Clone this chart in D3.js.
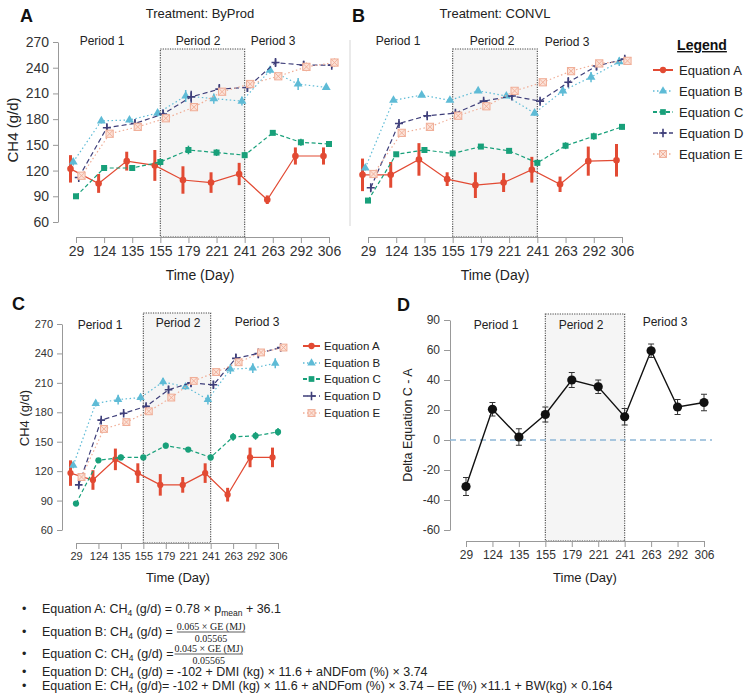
<!DOCTYPE html>
<html>
<head>
<meta charset="utf-8">
<script src="https://cdn.jsdelivr.net/npm/d3@7"></script>
<style>
  body { margin: 0; background: #fff; }
  svg { font-family: "Liberation Sans", Arial, sans-serif; }
</style>
</head>
<body>
<svg id="fig" width="745" height="698"></svg>
<script>
// ---- data ----
const days = ['29','124','135','155','179','221','241','263','292','306'];
const eqNames = ['Equation A','Equation B','Equation C','Equation D','Equation E'];
const ch4Ticks = [60, 90, 120, 150, 180, 210, 240, 270];

// Treatment: ByProd
const byprodA = [122,105,131,126,109,106,116,86,137,137];
const byprodAErr = [16,11,11,18,16,12,13,5,10,10];
const byprodB = [130,178,179,187,207,204,201,237,221,217];
const byprodBErr = [4,3,3,4,7,6,5,4,7,3];
const byprodC = [90,123,123,130,144,141,138,164,153,151];
const byprodCErr = [2,2,2,4,5,4,4,2,4,2];
const byprodD = [112,170,175,186,206,215,217,246,243,243];
const byprodDErr = [3,4,4,5,7,6,5,4,5,3];
const byprodE = [114,163,171,181,194,212,221,230,241,246];
const byprodEErr = [2,3,3,3,3,3,3,3,5,5];

// Treatment: CONVL
const convlA = [115,115,133,110,103,106,121,104,131,132];
const convlAErr = [19,15,19,8,15,11,15,9,17,19];
const convlB = [123,202,208,202,213,207,187,213,229,247];
const convlBErr = [3,2,2,2,2,2,3,6,6,5];
const convlC = [85,139,144,140,148,143,129,149,160,171];
const convlCErr = [2,2,2,2,2,2,3,4,4,3];
const convlD = [100,175,184,187,201,207,201,223,242,250];
const convlDErr = [4,3,3,3,3,3,3,6,5,4];
const convlE = [116,164,171,184,195,213,223,236,245,248];
const convlEErr = [2,2,2,3,3,3,3,3,3,3];

// both treatments together
const allA = [118,111,132,118,106,106,118,96,134,134];
const allAErr = [13,10,11,10,11,8,10,7,10,10];
const allB = [126,189,193,195,211,206,193,224,225,230];
const allBErr = [3,3,5,4,4,3,5,5,5,5];
const allC = [87,131,134,134,146,142,134,155,156,160];
const allCErr = [2,2,3,2,3,2,3,4,4,4];
const allD = [106,172,179,186,203,210,208,235,240,246];
const allDErr = [3,2,2,3,4,4,4,5,5,3];
const allE = [114,163,170,181,195,212,221,231,241,246];
const allEErr = [2,2,2,2,3,2,2,3,3,3];

// delta equation C - A
const delta = [-31,20.5,2,17,40,35.5,15.5,59.5,22,25];
const deltaErr = [6,4.5,5.5,5,5,4.5,5.5,4.5,5,5.5];
const deltaTicks = [-60,-40,-20,0,20,40,60,80];
const deltaTickLabels = ['-60','-40','-20','0','20','40','60','90'];

const periods = ['Period 1','Period 2','Period 3'];

// ---- styles ----
const seriesStyle = [
  { color: '#e24a33', dash: null,      marker: 'circle',   ew: 3   },
  { color: '#5ebbd6', dash: '1.5,2.5', marker: 'triangle', ew: 1.5 },
  { color: '#18a07a', dash: '4,2.5',   marker: 'square',   ew: 1.5 },
  { color: '#3f3f7a', dash: '5,3',     marker: 'plus',     ew: 1.5 },
  { color: '#f0ad96', dash: '1.5,2.5', marker: 'sqx',      ew: 1.2 }
];
const dodge = [-5.5, -2.75, 0, 2.75, 5.5];

const svg = d3.select('#fig');

function marker(g, type, cx, cy, c, k) {
  k = k || 1;
  if (type === 'circle') {
    g.append('circle').attr('cx', cx).attr('cy', cy).attr('r', 3.3 * k).attr('fill', c);
  } else if (type === 'triangle') {
    g.append('path').attr('d', d3.symbol(d3.symbolTriangle, 34 * k * k)())
      .attr('transform', `translate(${cx},${cy})`).attr('fill', c);
  } else if (type === 'square') {
    g.append('rect').attr('x', cx - 3 * k).attr('y', cy - 3 * k)
      .attr('width', 6 * k).attr('height', 6 * k).attr('fill', c);
  } else if (type === 'plus') {
    g.append('path').attr('d', `M${cx - 4 * k},${cy}H${cx + 4 * k}M${cx},${cy - 4.5 * k}V${cy + 4.5 * k}`)
      .attr('stroke', c).attr('stroke-width', 1.6);
  } else if (type === 'sqx') {
    const s = 3.6 * k;
    g.append('rect').attr('x', cx - s).attr('y', cy - s).attr('width', 2 * s).attr('height', 2 * s)
      .attr('fill', '#fbe2d8').attr('stroke', c).attr('stroke-width', 1);
    g.append('path').attr('d', `M${cx - s},${cy - s}L${cx + s},${cy + s}M${cx - s},${cy + s}L${cx + s},${cy - s}`)
      .attr('stroke', c).attr('stroke-width', 0.9);
  }
}

function styleAxis(g, fs) {
  g.attr('font-family', null).attr('font-size', null);
  g.select('.domain').attr('stroke', '#999');
  g.selectAll('.tick line').attr('stroke', '#999');
  g.selectAll('.tick text').attr('fill', '#333').style('font-size', fs + 'px');
}

function periodBox(g, x, top, axisY) {
  g.append('rect')
    .attr('x', x('155')).attr('y', top)
    .attr('width', x('241') - x('155')).attr('height', axisY - top)
    .attr('fill', '#f5f5f5').attr('stroke', '#444')
    .attr('stroke-width', 1.1).attr('stroke-dasharray', '1.2,1.2');
}

function label(g, txt, x, y, fs, opts) {
  opts = opts || {};
  const t = g.append('text').attr('x', x).attr('y', y)
    .attr('text-anchor', opts.anchor || 'middle')
    .attr('fill', opts.fill || '#222')
    .style('font-size', fs + 'px')
    .text(txt);
  if (opts.bold) t.attr('font-weight', 'bold');
  if (opts.rotate) t.attr('transform', `rotate(-90,${x},${y})`);
  return t;
}

// ---- CH4 panel ----
function ch4Panel(cfg) {
  const g = svg.append('g');
  const x = d3.scalePoint().domain(days).range(cfg.xRange);
  const y = d3.scaleLinear().domain([60, 270]).range(cfg.yRange);

  periodBox(g, x, cfg.boxTop, cfg.axisY);

  if (cfg.yAxisX != null) {
    const ya = g.append('g').attr('transform', `translate(${cfg.yAxisX},0)`)
      .call(d3.axisLeft(y).tickValues(ch4Ticks).tickSize(5).tickSizeOuter(0).tickPadding(4));
    styleAxis(ya, cfg.tickFs);
  }
  const xa = g.append('g').attr('transform', `translate(0,${cfg.axisY})`)
    .call(d3.axisBottom(x).tickSize(6).tickSizeOuter(0).tickPadding(3));
  styleAxis(xa, cfg.tickFs);

  cfg.series.forEach((vals, i) => {
    const st = seriesStyle[i];
    const errs = cfg.errs[i];
    const off = dodge[i];
    const sg = g.append('g');
    const line = d3.line().x((d, j) => x(days[j]) + off).y(d => y(d));
    sg.append('path').datum(vals).attr('d', line)
      .attr('fill', 'none').attr('stroke', st.color).attr('stroke-width', 1.2)
      .attr('stroke-dasharray', st.dash);
    vals.forEach((v, j) => {
      const cx = x(days[j]) + off;
      sg.append('line').attr('x1', cx).attr('x2', cx)
        .attr('y1', y(v - errs[j])).attr('y2', y(v + errs[j]))
        .attr('stroke', st.color).attr('stroke-width', st.ew);
      marker(sg, (cfg.markerOverride && cfg.markerOverride[i]) || st.marker, cx, y(v), st.color, cfg.mk);
    });
  });

  cfg.periodPos.forEach((p, i) => label(g, periods[i], p[0], p[1], cfg.periodFs));
  return { g, x, y };
}

function legend(g, x0, x1, tx, rows, fs) {
  eqNames.forEach((n, i) => {
    const st = seriesStyle[i];
    const cy = rows[i];
    g.append('line').attr('x1', x0).attr('x2', x1).attr('y1', cy).attr('y2', cy)
      .attr('stroke', st.color).attr('stroke-width', i === 0 || i === 2 ? 2 : 1.4)
      .attr('stroke-dasharray', st.dash);
    marker(g, st.marker, (x0 + x1) / 2, cy, st.color, 0.95);
    g.append('text').attr('x', tx).attr('y', cy).attr('dy', '0.35em')
      .attr('fill', '#222').style('font-size', fs + 'px').text(n);
  });
}

// Panel A
ch4Panel({
  xRange: [76, 329], yRange: [222, 42], yAxisX: 58, axisY: 237, boxTop: 49,
  tickFs: 14, periodFs: 12, mk: 1,
  series: [byprodA, byprodB, byprodC, byprodD, byprodE],
  errs: [byprodAErr, byprodBErr, byprodCErr, byprodDErr, byprodEErr],
  periodPos: [[102, 45], [198, 45], [273, 45]]
});
label(svg, 'A', 20, 22, 18, { anchor: 'start', bold: true, fill: '#111' });
label(svg, 'Treatment: ByProd', 200, 18, 13);
label(svg, 'Time (Day)', 200, 280, 14);
label(svg, 'CH4 (g/d)', 18, 130, 15, { rotate: true });

// Panel B
svg.append('line').attr('x1', 350).attr('x2', 350).attr('y1', 40).attr('y2', 226)
  .attr('stroke', '#d5d5d5').attr('stroke-width', 1);
ch4Panel({
  xRange: [368, 622], yRange: [222, 42], yAxisX: null, axisY: 237, boxTop: 49,
  tickFs: 14, periodFs: 12, mk: 1,
  series: [convlA, convlB, convlC, convlD, convlE],
  errs: [convlAErr, convlBErr, convlCErr, convlDErr, convlEErr],
  periodPos: [[398, 45], [492, 45], [567, 46]]
});
label(svg, 'B', 352, 22, 18, { anchor: 'start', bold: true, fill: '#111' });
label(svg, 'Treatment: CONVL', 495, 18, 13);
label(svg, 'Time (Day)', 495, 280, 14);

// main legend
const lg = svg.append('g');
lg.append('text').attr('x', 702).attr('y', 50).attr('text-anchor', 'middle')
  .attr('font-weight', 'bold').attr('text-decoration', 'underline')
  .attr('fill', '#111').style('font-size', '14px').text('Legend');
legend(lg, 653, 673, 679, [70, 91, 112, 133, 154], 13);

// Panel C
ch4Panel({
  xRange: [76, 278], yRange: [530, 324], yAxisX: 62, axisY: 543, boxTop: 313,
  tickFs: 11, periodFs: 12, mk: 0.95,
  series: [allA, allB, allC, allD, allE],
  errs: [allAErr, allBErr, allCErr, allDErr, allEErr],
  markerOverride: [null, null, 'circle', null, null],
  periodPos: [[100, 329], [178, 327], [257, 326]]
});
label(svg, 'C', 12, 310, 18, { anchor: 'start', bold: true, fill: '#111' });
label(svg, 'Time (Day)', 178, 582, 13);
label(svg, 'CH4 (g/d)', 29, 418, 13, { rotate: true });
legend(svg.append('g'), 303, 320, 324, [346, 363, 379, 396, 413], 11.5);

// Panel D
(function () {
  const g = svg.append('g');
  const x = d3.scalePoint().domain(days).range([466, 704]);
  const y = d3.scaleLinear().domain([-60, 80]).range([530, 320]);
  const axisY = 541;
  periodBox(g, x, 314, axisY);
  const ya = g.append('g').attr('transform', 'translate(450,0)')
    .call(d3.axisLeft(y).tickValues(deltaTicks).tickFormat((d, i) => deltaTickLabels[i])
      .tickSize(6).tickSizeOuter(0).tickPadding(4));
  styleAxis(ya, 12);
  const xa = g.append('g').attr('transform', `translate(0,${axisY})`)
    .call(d3.axisBottom(x).tickSize(6).tickSizeOuter(0).tickPadding(3));
  styleAxis(xa, 12);

  g.append('line').attr('x1', 450).attr('x2', 712).attr('y1', y(0)).attr('y2', y(0))
    .attr('stroke', '#8db6d6').attr('stroke-width', 1.5).attr('stroke-dasharray', '6,4');

  g.append('path').datum(delta)
    .attr('d', d3.line().x((d, j) => x(days[j])).y(d => y(d)))
    .attr('fill', 'none').attr('stroke', '#111').attr('stroke-width', 1.4);
  delta.forEach((v, j) => {
    const cx = x(days[j]);
    const lo = y(v - deltaErr[j]), hi = y(v + deltaErr[j]);
    g.append('path').attr('d', `M${cx},${lo}V${hi}M${cx - 3},${lo}H${cx + 3}M${cx - 3},${hi}H${cx + 3}`)
      .attr('stroke', '#333').attr('stroke-width', 1).attr('fill', 'none');
    g.append('circle').attr('cx', cx).attr('cy', y(v)).attr('r', 4.6).attr('fill', '#111');
  });
  [[496, 329], [581, 329], [665, 326]].forEach((p, i) => label(g, periods[i], p[0], p[1], 12));
})();
label(svg, 'D', 397, 311, 18, { anchor: 'start', bold: true, fill: '#111' });
label(svg, 'Time (Day)', 585, 582, 13);
label(svg, 'Delta Equation C - A', 412, 425, 12.5, { rotate: true });

// ---- equations below ----
const eq = svg.append('g').style('font-size', '12.5px').attr('fill', '#222');
function eqRow(y, parts) {
  eq.append('text').attr('x', 22).attr('y', y).text('•');
  const t = eq.append('text').attr('x', 42).attr('y', y);
  parts.forEach(p => {
    if (p.sub) t.append('tspan').attr('dy', 3).style('font-size', '8.5px').text(p.sub);
    else t.append('tspan').attr('dy', p.up ? -3 : 0).text(p.t);
  });
  return t;
}
function fraction(t, num, den, gap) {
  const bb = t.node().getBBox();
  const x0 = bb.x + bb.width + (gap || 3);
  const y = +t.attr('y');
  const fg = eq.append('g').attr('font-family', '"Liberation Serif", "DejaVu Serif", serif').style('font-size', '10px');
  const n = fg.append('text').attr('x', x0).attr('y', y - 6.5).text(num);
  const w = n.node().getComputedTextLength();
  fg.append('line').attr('x1', x0).attr('x2', x0 + w).attr('y1', y - 4).attr('y2', y - 4)
    .attr('stroke', '#333').attr('stroke-width', 0.8);
  fg.append('text').attr('x', x0 + w / 2).attr('y', y + 6).attr('text-anchor', 'middle').text(den);
}

eqRow(613, [{ t: 'Equation A: CH' }, { sub: '4' }, { t: ' (g/d) = 0.78 × p', up: true }, { sub: 'mean' }, { t: ' + 36.1', up: true }]);
const rb = eqRow(636, [{ t: 'Equation B: CH' }, { sub: '4' }, { t: ' (g/d) =', up: true }]);
fraction(rb, '0.065 × GE (MJ)', '0.05565', 4);
const rc = eqRow(658, [{ t: 'Equation C: CH' }, { sub: '4' }, { t: ' (g/d) =', up: true }]);
fraction(rc, '0.045  × GE (MJ)', '0.05565', 1);
eqRow(676, [{ t: 'Equation D: CH' }, { sub: '4' }, { t: ' (g/d) = -102 + DMI (kg) × 11.6 + aNDFom (%) × 3.74', up: true }]);
eqRow(690, [{ t: 'Equation E: CH' }, { sub: '4' }, { t: ' (g/d)= -102 + DMI (kg) × 11.6 + aNDFom (%) × 3.74 – EE (%) ×11.1 + BW(kg) × 0.164', up: true }]);
</script>
</body>
</html>
